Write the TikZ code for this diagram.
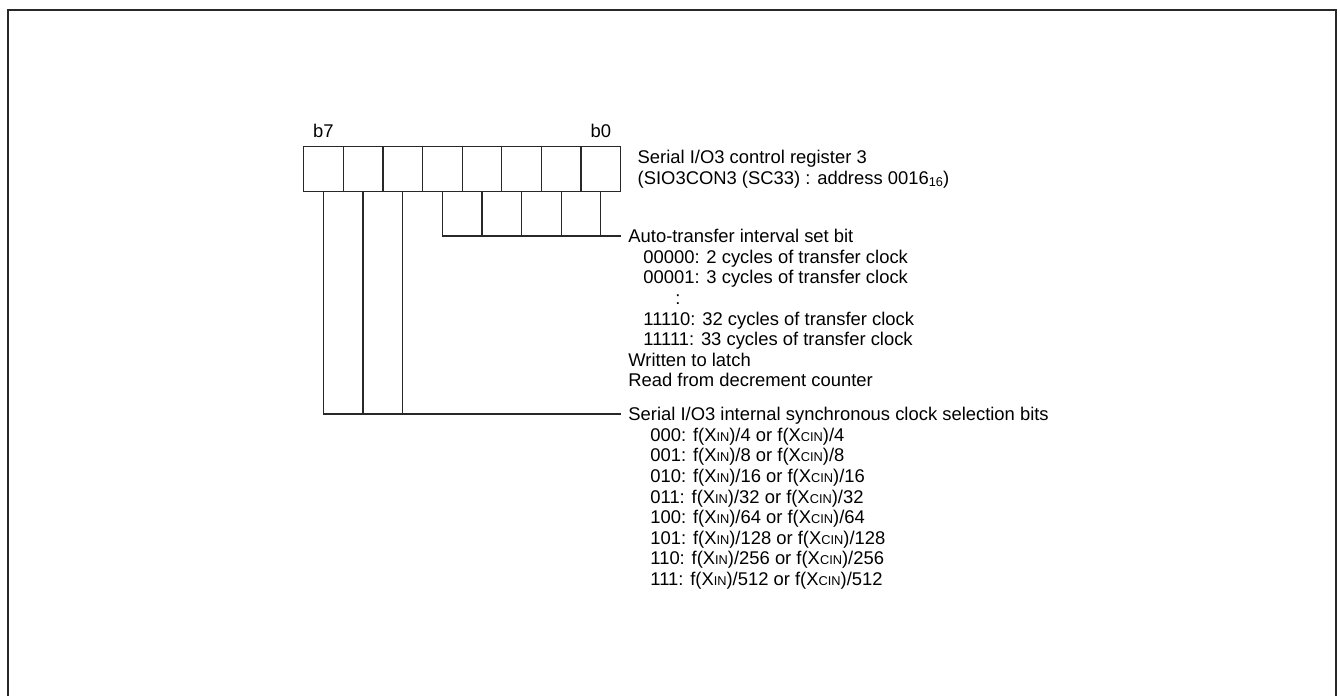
\documentclass[tikz,border=0pt]{standalone}
\usepackage{fontspec}
\setmainfont{Liberation Sans}
\usetikzlibrary{positioning}
\definecolor{wirecol}{RGB}{40, 40, 40}
\newcommand{\regfont}{\fontsize{9.2pt}{10.3pt}\selectfont}
\newcommand{\smallsub}[1]{{\fontsize{6.4pt}{7pt}\selectfont #1}}
\tikzset{
    cell/.style={draw=wirecol, line width=0.65pt, minimum width=19.8125pt, minimum height=22.5pt, inner sep=0pt, anchor=north west},
    wire/.style={draw=wirecol, line width=0.65pt},
    head/.style={anchor=west, inner xsep=3.5pt, inner ysep=0pt, text depth=0pt},
    item/.style={anchor=base west, inner sep=0pt}
}

\begin{document}
\begin{tikzpicture}[x=0.5pt, y=-0.5pt, font=\regfont]
        \useasboundingbox (0,0) rectangle (1340,696);
        % Rahmen
        \draw[line width=1.35pt, wirecol] (8,700) -- (8,10) -- (1336,10) -- (1336,700);
        
        % Registerzellen b7 ... b0
        \foreach \i in {0,...,7} {
            \node[cell] (c\i) at ({620-39.625*(\i+1)}, 146) {};
        }
        \node[above=4pt of c7.north, inner sep=0pt] (lb7) {b7};
        \node[above=4pt of c0.north, inner sep=0pt] (lb0) {b0};
        
        % Registername
        \node[right=8pt of c0.east, inner sep=0pt, align=left] (reg) {Serial I/O3 control register 3\\(SIO3CON3 (SC33) : address 0016\raisebox{-0.25ex}{\smallsub{16}})};
        
        % b4 ... b0
        \node[head] (auto) at (621, 236) {Auto-transfer interval set bit};
        \foreach \k/\x/\txt in {1/643/{00000: 2 cycles of transfer clock},
                                2/643/{00001: 3 cycles of transfer clock},
                                3/675/{:},
                                4/643/{11110: 32 cycles of transfer clock},
                                5/643/{11111: 33 cycles of transfer clock},
                                6/628/{Written to latch},
                                7/628/{Read from decrement counter}} {
            \node[item] (auto\k) at (\x, {242.7+20.6*\k}) {\txt};
        }
        \draw[wire] (c4.south) |- (auto.west);
        \foreach \i in {0,...,3} {
            \draw[wire] (c\i.south) -- (c\i.south |- auto.west);
        }
        
        % b7 ... b5
        \node[head] (clk) at (621, 414) {Serial I/O3 internal synchronous clock selection bits};
        \foreach \k/\code/\rate in {1/000/4, 2/001/8, 3/010/16, 4/011/32,
                                    5/100/64, 6/101/128, 7/110/256, 8/111/512} {
            \node[item] (clk\k) at (650, {420.7+20.6*\k}) {\code: f(X\smallsub{IN})/\rate{} or f(X\smallsub{CIN})/\rate};
        }
        \draw[wire] (c7.south) |- (clk.west);
        \foreach \i in {5,6} {
            \draw[wire] (c\i.south) -- (c\i.south |- clk.west);
        }
        
    \end{tikzpicture}
\end{document}
